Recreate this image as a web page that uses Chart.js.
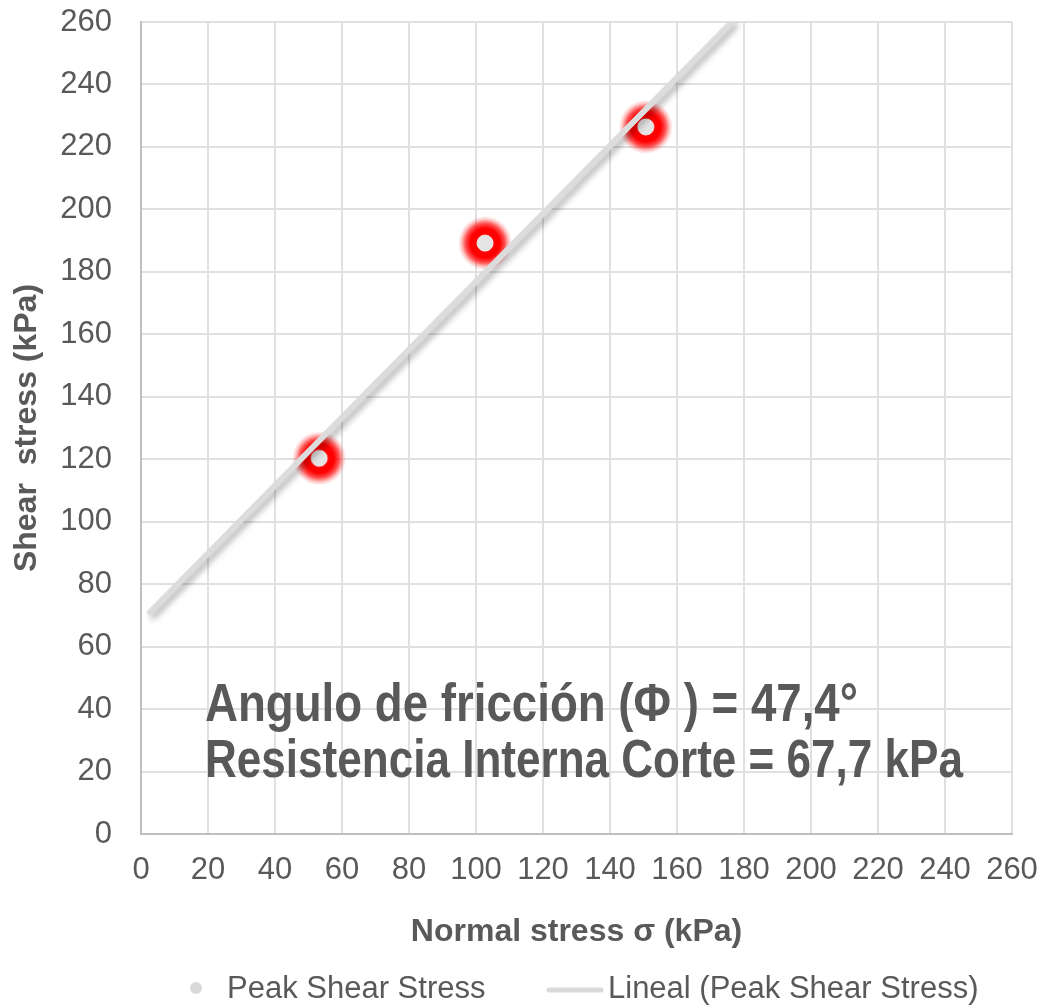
<!DOCTYPE html>
<html>
<head>
<meta charset="utf-8">
<script src="https://cdn.jsdelivr.net/npm/chart.js@4.4.1/dist/chart.umd.min.js"></script>
<style>
  html, body { margin: 0; padding: 0; background: #fff; }
  #wrap { width: 1043px; height: 1006px; position: relative; }
</style>
</head>
<body>
<div id="wrap"><canvas id="shearChart"></canvas></div>
<script>
// Data
const normalStress = [53.2, 102.7, 150.7];   // kPa
const peakShear = [120.3, 189.2, 226.4];     // kPa
const trendNormal = [2.7, 176.4];            // ends of the linear trend line
const trendShear = [71.0, 260];
const axisMin = 0;
const axisMax = 260;
const tickStep = 20;

const seriesLabels = ['Peak Shear Stress', 'Lineal (Peak Shear Stress)'];
const annotationLines = [
  'Angulo de fricción (Φ ) = 47,4°',
  'Resistencia Interna Corte = 67,7 kPa'
];

const textColor = '#595959';
const baseFont = '"Liberation Sans", Arial, sans-serif';

// marker: light grey dot with a soft red halo
function makeGlowMarker() {
  const size = 54;
  const c = size / 2;
  const cv = document.createElement('canvas');
  cv.width = size;
  cv.height = size;
  const g = cv.getContext('2d');
  const grad = g.createRadialGradient(c, c, 0, c, c, c);
  grad.addColorStop(0, 'rgba(255, 0, 0, 1)');
  grad.addColorStop(0.55, 'rgba(255, 0, 0, 1)');
  grad.addColorStop(0.72, 'rgba(255, 0, 0, 0.7)');
  grad.addColorStop(0.88, 'rgba(255, 0, 0, 0.22)');
  grad.addColorStop(1, 'rgba(255, 0, 0, 0)');
  g.fillStyle = grad;
  g.beginPath();
  g.arc(c, c, c, 0, Math.PI * 2);
  g.fill();
  g.fillStyle = '#e4e4e4';
  g.strokeStyle = '#f0f0f0';
  g.lineWidth = 1;
  g.beginPath();
  g.arc(c, c, 8, 0, Math.PI * 2);
  g.fill();
  g.stroke();
  return cv;
}

/**
 * Soft shadow under the trend line
 */
const shadowPlugin = {
  id: 'lineShadow',
  beforeDatasetDraw(chart, args) {
    const ctx = chart.ctx;
    ctx.save();
    if (args.index === 1) {
      ctx.shadowColor = 'rgba(0, 0, 0, 0.3)';
      ctx.shadowBlur = 6;
      ctx.shadowOffsetX = 3;
      ctx.shadowOffsetY = 4;
    }
  },
  afterDatasetDraw(chart) {
    chart.ctx.restore();
  }
};

/**
 * Text box with the friction angle and cohesion
 */
const annotationPlugin = {
  id: 'annotation',
  afterDatasetsDraw(chart, args, opts) {
    const ctx = chart.ctx;
    const x = chart.scales.x.getPixelForValue(opts.x);
    ctx.save();
    ctx.fillStyle = textColor;
    ctx.textBaseline = 'alphabetic';
    ctx.textAlign = 'left';
    ctx.font = 'bold ' + opts.size + 'px "Liberation Sans Narrow", "Liberation Sans", Arial, sans-serif';
    annotationLines.forEach((line, i) => {
      const y = chart.scales.y.getPixelForValue(opts.y[i]);
      const w = ctx.measureText(line).width;
      const sx = opts.widths[i] / w;
      ctx.save();
      ctx.translate(x, y);
      ctx.scale(sx, 1);
      ctx.fillText(line, 0, 0);
      ctx.restore();
    });
    ctx.restore();
  }
};

/**
 * Legend drawn at fixed spots under the x axis title
 */
const legendPlugin = {
  id: 'bottomLegend',
  afterDraw(chart, args, opts) {
    const ctx = chart.ctx;
    const y = opts.y;
    ctx.save();
    // marker for the points
    ctx.fillStyle = '#d9d9d9';
    ctx.beginPath();
    ctx.arc(opts.markerX, y - 1, 6, 0, Math.PI * 2);
    ctx.fill();
    // marker for the trend line
    ctx.strokeStyle = '#dadada';
    ctx.lineWidth = 5;
    ctx.lineCap = 'round';
    ctx.beginPath();
    ctx.moveTo(opts.lineFrom, y + 1);
    ctx.lineTo(opts.lineTo, y + 1);
    ctx.stroke();
    // labels
    ctx.fillStyle = textColor;
    ctx.font = '31px ' + baseFont;
    ctx.textBaseline = 'middle';
    ctx.textAlign = 'left';
    chart.data.datasets.forEach((ds, i) => {
      ctx.fillText(ds.label, opts.textX[i], y);
    });
    ctx.restore();
  }
};

function noScalePadding(scale) {
  scale.paddingTop = 0;
  scale.paddingBottom = 0;
  scale.paddingLeft = 0;
  scale.paddingRight = 0;
}

const ctxEl = document.getElementById('shearChart');

new Chart(ctxEl, {
  type: 'scatter',
  data: {
    datasets: [{
      label: seriesLabels[0],
      data: normalStress.map((v, i) => ({ x: v, y: peakShear[i] })),
      pointStyle: makeGlowMarker(),
      pointRadius: 27,
      pointHoverRadius: 27,
      order: 1
    }, {
      label: seriesLabels[1],
      data: trendNormal.map((v, i) => ({ x: v, y: trendShear[i] })),
      showLine: true,
      pointRadius: 0,
      borderColor: '#dcdcdc',
      borderWidth: 6,
      borderCapStyle: 'round',
      order: 0
    }]
  },
  options: {
    responsive: true,
    maintainAspectRatio: false,
    animation: false,
    layout: {
      autoPadding: false,
      padding: { top: 22, right: 31, bottom: 0, left: 0 }
    },
    scales: {
      x: {
        type: 'linear',
        min: axisMin,
        max: axisMax,
        afterFit(scale) { scale.height = 172; noScalePadding(scale); },
        ticks: {
          stepSize: tickStep,
          padding: 18,
          color: textColor,
          font: { size: 31, family: baseFont },
          maxRotation: 0,
          autoSkip: false
        },
        grid: { color: '#e0e0e0', lineWidth: 2, drawTicks: false },
        border: { color: '#bfbfbf', width: 2 },
        title: {
          display: true,
          text: 'Normal stress σ (kPa)',
          color: textColor,
          font: { size: 32, weight: 'bold', family: baseFont },
          padding: { top: 4, bottom: 55 }
        }
      },
      y: {
        type: 'linear',
        min: axisMin,
        max: axisMax,
        afterFit(scale) { scale.width = 141; noScalePadding(scale); },
        ticks: {
          stepSize: tickStep,
          padding: 29,
          color: textColor,
          font: { size: 31, family: baseFont },
          autoSkip: false
        },
        grid: { color: '#e0e0e0', lineWidth: 2, drawTicks: false },
        border: { color: '#bfbfbf', width: 2 },
        title: {
          display: true,
          text: 'Shear  stress (kPa)',
          color: textColor,
          font: { size: 32, weight: 'bold', family: baseFont },
          padding: { top: 8, bottom: 4 }
        }
      }
    },
    plugins: {
      legend: { display: false },
      tooltip: { enabled: false },
      annotation: { x: 19.1, y: [36.1, 18.2], size: 53, widths: [653, 758] },
      bottomLegend: { y: 989, markerX: 196, lineFrom: 549, lineTo: 601, textX: [227, 608] }
    }
  },
  plugins: [shadowPlugin, annotationPlugin, legendPlugin]
});
</script>
</body>
</html>
